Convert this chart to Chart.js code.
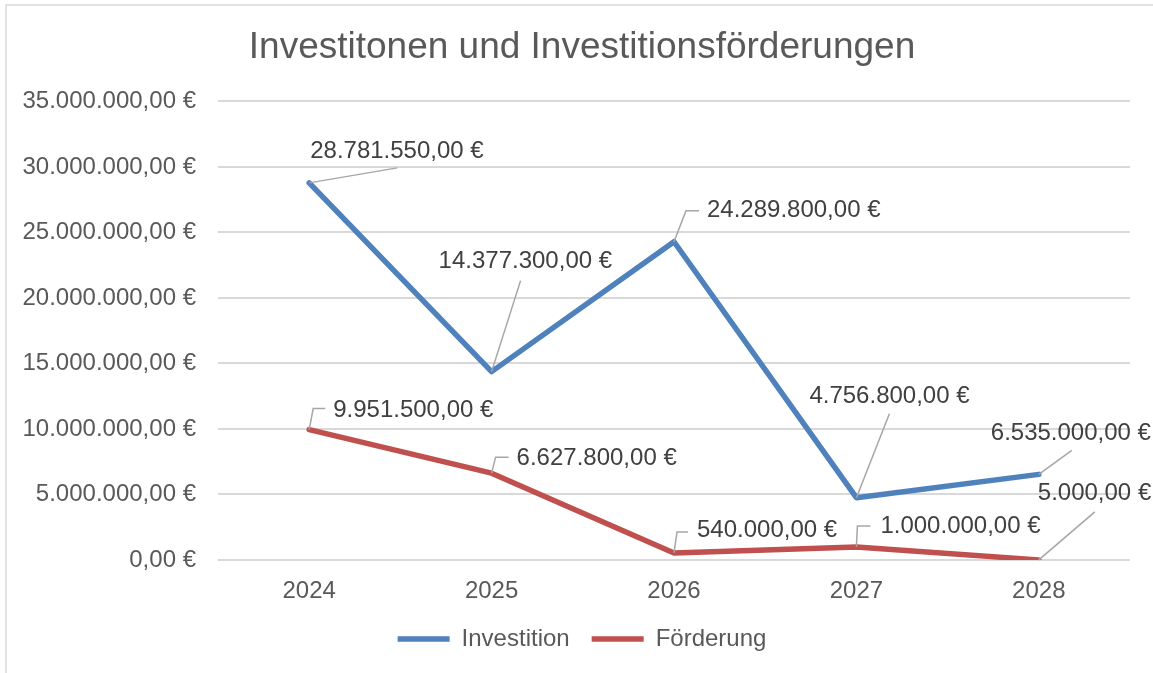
<!DOCTYPE html>
<html>
<head>
<meta charset="utf-8">
<script src="https://cdn.jsdelivr.net/npm/chart.js@4.4.1/dist/chart.umd.min.js"></script>
<style>
  body { margin: 0; background: #fff; }
  #wrap { width: 1153px; height: 673px; }
</style>
</head>
<body>
<div id="wrap"><canvas id="myChart" width="1153" height="673"></canvas></div>
<script>
// chart data
const years = ['2024', '2025', '2026', '2027', '2028'];
const investition = [28781550, 14377300, 24289800, 4756800, 6535000];
const foerderung = [9951500, 6627800, 540000, 1000000, 5000];
const yTicks = [0, 5000000, 10000000, 15000000, 20000000, 25000000, 30000000, 35000000];

const FONT = "'Liberation Sans', Arial, sans-serif";

// german currency format, e.g. 28.781.550,00 €
const euro = (v) => {
    const s = Math.round(v).toString().replace(/\B(?=(\d{3})+(?!\d))/g, '.');
    return s + ',00 €';
};

// label placement relative to the point (text left/middle + leader line)
const labelLayout = [
    [
        { dx: 1, dy: -32, leader: [[0, 0], [88, -15]] },
        { dx: -53, dy: -110, leader: [[0, 0], [29, -91]] },
        { dx: 33, dy: -31, leader: [[0, 0], [12, -31], [25, -31]] },
        { dx: -47, dy: -101, leader: [[0, 0], [33, -84]] },
        { dx: -48, dy: -41, leader: [[0, 0], [33, -24]] },
    ],
    [
        { dx: 24, dy: -19, leader: [[0, 0], [4, -21], [16, -21]] },
        { dx: 25, dy: -15, leader: [[0, 0], [4, -16], [17, -16]] },
        { dx: 23, dy: -23, leader: [[0, 0], [3, -21], [14, -21]] },
        { dx: 24, dy: -21, leader: [[0, 0], [1, -21], [14, -21]] },
        { dx: -1, dy: -67, leader: [[0, 0], [56, -48]] },
    ],
];

const frame = {
    id: 'frame',
    beforeDraw(chart) {
        const ctx = chart.ctx;
        ctx.save();
        ctx.fillStyle = '#fff';
        ctx.fillRect(0, 0, chart.width, chart.height);
        ctx.strokeStyle = '#d9d9d9';
        ctx.lineWidth = 1.5;
        ctx.strokeRect(6, 5, 1300, 800);
        ctx.restore();
    }
};

// let the long y tick labels reach past the axis box (no clipping)
const widenY = {
    id: 'widenY',
    afterLayout(chart) {
        chart.scales.y.left = 0;
    }
};

const dataLabels = {
    id: 'dataLabels',
    afterDatasetsDraw(chart) {
        const ctx = chart.ctx;
        ctx.save();
        chart.data.datasets.forEach((ds, di) => {
            const meta = chart.getDatasetMeta(di);
            meta.data.forEach((pt, i) => {
                const lay = labelLayout[di][i];
                ctx.strokeStyle = '#a6a6a6';
                ctx.lineWidth = 1.5;
                ctx.beginPath();
                lay.leader.forEach((p, k) => {
                    if (k === 0) ctx.moveTo(pt.x + p[0], pt.y + p[1]);
                    else ctx.lineTo(pt.x + p[0], pt.y + p[1]);
                });
                ctx.stroke();
                ctx.fillStyle = '#404040';
                ctx.font = '24px ' + FONT;
                ctx.textAlign = 'left';
                ctx.textBaseline = 'middle';
                ctx.fillText(euro(ds.data[i]), pt.x + lay.dx, pt.y + lay.dy);
            });
        });
        ctx.restore();
    }
};

const ctx = document.getElementById('myChart');
new Chart(ctx, {
    type: 'line',
    data: {
        labels: years,
        datasets: [
            {
                label: 'Investition',
                data: investition,
                borderColor: '#4f81bd',
                backgroundColor: '#4f81bd',
                borderWidth: 5.5,
                borderCapStyle: 'round',
                borderJoinStyle: 'round',
                pointRadius: 0,
                pointStyle: 'line',
                tension: 0,
            },
            {
                label: 'Förderung',
                data: foerderung,
                borderColor: '#c0504d',
                backgroundColor: '#c0504d',
                borderWidth: 5.5,
                borderCapStyle: 'round',
                borderJoinStyle: 'round',
                pointRadius: 0,
                pointStyle: 'line',
                tension: 0,
            },
        ]
    },
    options: {
        responsive: false,
        animation: false,
        layout: { padding: { left: 34, right: 23, top: 0, bottom: 12 } },
        plugins: {
            title: {
                display: true,
                text: 'Investitonen und Investitionsförderungen',
                color: '#595959',
                font: { family: FONT, size: 37, weight: 'normal' },
                padding: { top: 26, bottom: 31 },
            },
            legend: {
                position: 'bottom',
                labels: {
                    usePointStyle: true,
                    pointStyleWidth: 52,
                    boxHeight: 5,
                    color: '#595959',
                    font: { family: FONT, size: 24 },
                    padding: 22,
                },
            },
            tooltip: { enabled: false },
        },
        scales: {
            x: {
                offset: true,
                grid: { display: false, drawTicks: false },
                border: { display: false },
                ticks: { color: '#595959', font: { family: FONT, size: 24 }, padding: 17 },
                afterFit: (scale) => { scale.height = 45; },
            },
            y: {
                min: 0,
                max: 35000000,
                afterBuildTicks: (scale) => { scale.ticks = yTicks.map(v => ({ value: v })); },
                grid: { color: '#d9d9d9', lineWidth: 2, drawTicks: false },
                border: { display: false },
                ticks: {
                    color: '#595959',
                    font: { family: FONT, size: 24 },
                    padding: 22,
                    callback: (v) => euro(v),
                },
                afterFit: (scale) => { scale.width = 184; },
            },
        },
    },
    plugins: [frame, widenY, dataLabels],
});
</script>
</body>
</html>
